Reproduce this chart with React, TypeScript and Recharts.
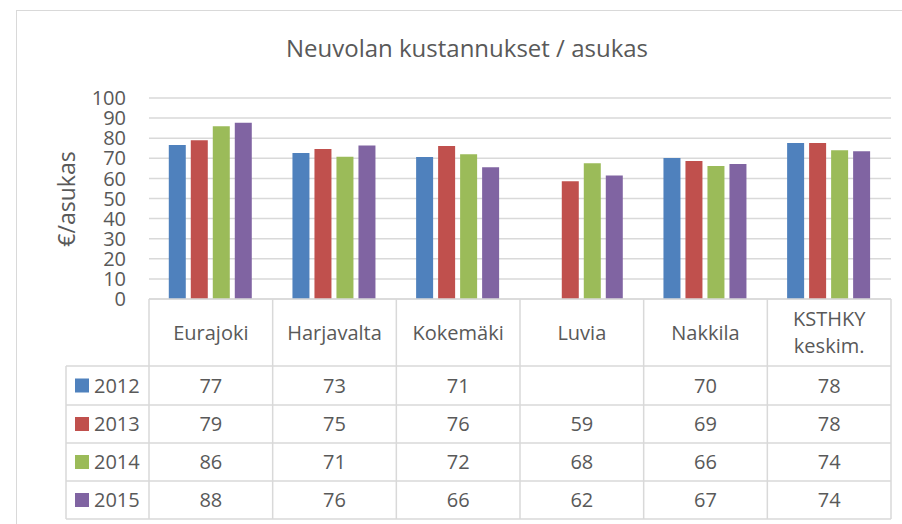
import { BarChart, Bar, XAxis, YAxis, CartesianGrid, Legend } from 'recharts';

const categories = ['Eurajoki', 'Harjavalta', 'Kokemäki', 'Luvia', 'Nakkila', 'KSTHKY keskim.'];
const years = ['2012', '2013', '2014', '2015'];
const colors = ['#4F81BD', '#C0504D', '#9BBB59', '#8064A2'];

// € per resident (table shows rounded values)
const v2012 = [76.6, 72.6, 70.6, null, 70.1, 77.6];
const v2013 = [79.0, 74.6, 76.1, 58.6, 68.6, 77.6];
const v2014 = [85.9, 70.8, 72.0, 67.5, 66.2, 74.0];
const v2015 = [87.7, 76.4, 65.5, 61.5, 67.2, 73.5];
const series = [v2012, v2013, v2014, v2015];

const yTicks = [0, 10, 20, 30, 40, 50, 60, 70, 80, 90, 100];

const W = 902;
const H = 524;
const PLOT_LEFT = 149;
const PLOT_RIGHT = 891;
const PLOT_TOP = 98;
const PLOT_BOTTOM = 299;
const COL_W = (PLOT_RIGHT - PLOT_LEFT) / categories.length;
const ROW_LINES = [366, 405, 443, 481, 519];
const LEGEND_LEFT = 66;
const TEXT = '#595959';
const LINE = '#D9D9D9';
const FONT = '"Open Sans", sans-serif';

const data = categories.map((name, i) => {
  const row: Record<string, string | number | null> = { name };
  years.forEach((y, k) => { row[y] = series[k][i]; });
  return row;
});

function TableTick(props: any) {
  const { x, payload } = props;
  const i = payload.index;
  const label: string = payload.value;
  const lines = label.split(' ');
  const right = x + COL_W / 2;
  const left = x - COL_W / 2;
  const headMid = (PLOT_BOTTOM + ROW_LINES[0]) / 2;
  return (
    <g>
      {lines.map((l, k) => (
        <text key={k} x={x} y={headMid + (k - (lines.length - 1) / 2) * 27} dy="0.36em"
          textAnchor="middle" fill={TEXT} fontSize={20} fontFamily={FONT}>{l}</text>
      ))}
      {series.map((s, r) => s[i] == null ? null : (
        <text key={r} x={x} y={(ROW_LINES[r] + ROW_LINES[r + 1]) / 2} dy="0.36em"
          textAnchor="middle" fill={TEXT} fontSize={20} fontFamily={FONT}>{Math.round(s[i] as number)}</text>
      ))}
      {i === 0 && <line x1={left} y1={PLOT_BOTTOM} x2={left} y2={ROW_LINES[4]} stroke={LINE} strokeWidth={1.5} />}
      <line x1={right} y1={PLOT_BOTTOM} x2={right} y2={ROW_LINES[4]} stroke={LINE} strokeWidth={1.5} />
    </g>
  );
}

function LegendTable(props: any) {
  const payload = props.payload || [];
  const w = PLOT_RIGHT - LEGEND_LEFT;
  const h = ROW_LINES[4] - ROW_LINES[0];
  return (
    <svg width={w + 2} height={h + 2} style={{ display: 'block', overflow: 'visible' }}>
      {ROW_LINES.map((y, k) => (
        <line key={k} x1={0} y1={y - ROW_LINES[0]} x2={w} y2={y - ROW_LINES[0]} stroke={LINE} strokeWidth={1.5} />
      ))}
      <line x1={0} y1={0} x2={0} y2={h} stroke={LINE} strokeWidth={1.5} />
      {payload.map((p: any, r: number) => {
        const cy = (ROW_LINES[r] + ROW_LINES[r + 1]) / 2 - ROW_LINES[0];
        return (
          <g key={p.value}>
            <rect x={9} y={cy - 7} width={14} height={14} fill={p.color} />
            <text x={28} y={cy} dy="0.36em" fill={TEXT} fontSize={20} fontFamily={FONT}>{p.value}</text>
          </g>
        );
      })}
    </svg>
  );
}

export default function App() {
  return (
    <div style={{ position: 'absolute', left: 0, top: 0, width: W, height: H, overflow: 'hidden', background: '#fff', fontFamily: FONT }}>
      <div style={{ position: 'absolute', left: 16, top: 10, width: W, height: H, border: `1.5px solid ${LINE}` }} />
      <svg width={W} height={H} style={{ position: 'absolute', left: 0, top: 0 }}>
        <text x={467} y={57} textAnchor="middle" fill={TEXT} fontSize={24} fontFamily={FONT}>
          Neuvolan kustannukset / asukas
        </text>
        <text x={0} y={0} transform="translate(67,199) rotate(-90)" dy="0.36em" textAnchor="middle"
          fill={TEXT} fontSize={23} fontFamily={FONT}>€/asukas</text>
      </svg>
      <div style={{ position: 'absolute', left: 0, top: 0 }}>
        <BarChart width={W} height={H} data={data}
          margin={{ top: PLOT_TOP, right: W - PLOT_RIGHT, bottom: 0, left: 0 }}
          barCategoryGap="16%" barGap={5}>
          <CartesianGrid vertical={false} stroke={LINE} strokeWidth={1.5} />
          <YAxis width={PLOT_LEFT} domain={[0, 100]} ticks={yTicks} interval={0}
            axisLine={false} tickLine={false} tickSize={0} tickMargin={23}
            tick={{ fill: TEXT, fontSize: 20, fontFamily: FONT }} />
          <XAxis dataKey="name" interval={0} axisLine={{ stroke: LINE, strokeWidth: 1.5 }}
            tickLine={false} tickSize={0} tickMargin={0} tick={<TableTick />} height={H - PLOT_BOTTOM} />
          <Legend layout="vertical" align="center" verticalAlign="middle"
            content={<LegendTable />}
            wrapperStyle={{ left: LEGEND_LEFT, top: ROW_LINES[0], width: 'auto', height: 'auto' }} />
          {years.map((y, k) => (
            <Bar key={y} dataKey={y} name={y} fill={colors[k]} isAnimationActive={false} />
          ))}
        </BarChart>
      </div>
    </div>
  );
}
